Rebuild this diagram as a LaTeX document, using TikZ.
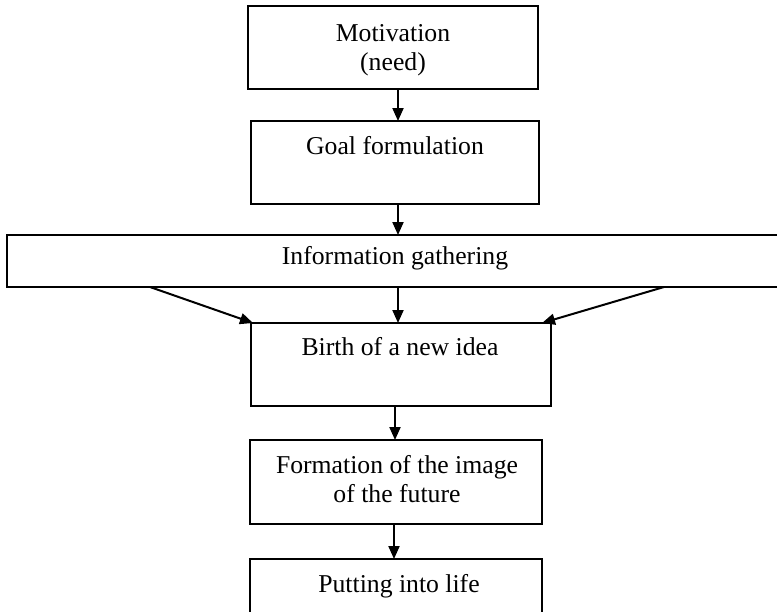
\documentclass[tikz,border=0pt]{standalone}
\usepackage{fontspec}
\setmainfont{Liberation Serif}
\usetikzlibrary{arrows.meta}
\begin{document}
\begin{tikzpicture}[x=1pt,y=-1pt,
  box/.style={draw, line width=1.5pt, inner sep=0pt, outer sep=0pt, anchor=north west},
  txt/.style={font=\fontsize{25.7}{29}\selectfont, inner sep=0pt, anchor=base},
  arr/.style={line width=2pt, -{Triangle[length=13pt,width=11pt]}}]
\useasboundingbox (0,0) rectangle (777,611);

% boxes
\node[box, minimum width=290pt, minimum height=83pt] (b1) at (248,6) {};
\node[box, minimum width=288pt, minimum height=83pt] (b2) at (251,121) {};
\node[box, minimum width=775pt, minimum height=52pt] (b3) at (7,235) {};
\node[box, minimum width=300pt, minimum height=83pt] (b4) at (251,323) {};
\node[box, minimum width=292pt, minimum height=84pt] (b5) at (250,440) {};
\node[box, minimum width=292pt, minimum height=56pt] (b6) at (250,559) {};

% labels
\node[txt] (t1a) at (393,41) {Motivation};
\node[txt] (t1b) at (393,70) {(need)};
\node[txt] (t2) at (395,154) {Goal formulation};
\node[txt] (t3) at (395,264) {Information gathering};
\node[txt] (t4) at (400,355) {Birth of a new idea};
\node[txt] (t5a) at (397,473) {Formation of the image};
\node[txt] (t5b) at (397,502) {of the future};
\node[txt] (t6) at (399,592) {Putting into life};

% arrow columns
\coordinate (c1) at (398,0);
\coordinate (c2) at (398,0);
\coordinate (c3) at (398,0);
\coordinate (c4) at (395,0);
\coordinate (c5) at (394,0);
\coordinate (l0) at (150,0);
\coordinate (r0) at (664,0);

% connectors
\draw[arr] (b1.south -| c1) -- (b2.north -| c1);
\draw[arr] (b2.south -| c2) -- (b3.north -| c2);
\draw[arr] (b3.south -| c3) -- (b4.north -| c3);
\draw[arr] (b3.south -| l0) -- ([xshift=2pt]b4.north west);
\draw[arr] (b3.south -| r0) -- ([xshift=-9pt]b4.north east);
\draw[arr] (b4.south -| c4) -- (b5.north -| c4);
\draw[arr] (b5.south -| c5) -- (b6.north -| c5);
\end{tikzpicture}
\end{document}
